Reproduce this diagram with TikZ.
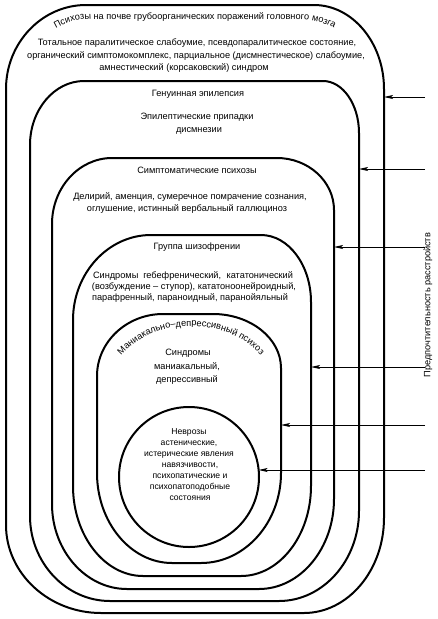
\documentclass[tikz,border=0pt]{standalone}
\usepackage{fontspec}
\setmainfont{Liberation Sans}
\usetikzlibrary{arrows.meta,decorations.text}
\tikzset{
  shp/.style={line width=2pt, line join=round},
  arr/.style={line width=0.9pt, -{Stealth[length=9pt,width=4pt,inset=2pt]}},
  lbl/.style={font=\fontsize{9.2}{11}\selectfont, inner sep=0pt, text height=6.5pt, text depth=2pt},
  lblsm/.style={font=\fontsize{8.6}{10}\selectfont, inner sep=0pt, text height=6pt, text depth=2pt},
}
% rounded shape: (L,R,T,B)(tlx,tly)(trx,try)(brx,bry)(blx,bly)
\def\rshape(#1,#2,#3,#4)(#5,#6)(#7,#8){\def\zzL{#1}\def\zzR{#2}\def\zzT{#3}\def\zzB{#4}%
  \def\zza{#5}\def\zzb{#6}\def\zzc{#7}\def\zzd{#8}\rshapeB}
\def\rshapeB(#1,#2)(#3,#4){\def\zze{#1}\def\zzf{#2}\def\zzg{#3}\def\zzh{#4}\rshapeDraw}
\def\rshapeDraw{%
  \draw[shp] (\zzL,{\zzT+\zzb}) .. controls (\zzL,{\zzT+0.45*\zzb}) and ({\zzL+0.45*\zza},\zzT) .. ({\zzL+\zza},\zzT)
   -- ({\zzR-\zzc},\zzT) .. controls ({\zzR-0.45*\zzc},\zzT) and (\zzR,{\zzT+0.45*\zzd}) .. (\zzR,{\zzT+\zzd})
   -- (\zzR,{\zzB-\zzf}) .. controls (\zzR,{\zzB-0.45*\zzf}) and ({\zzR-0.45*\zze},\zzB) .. ({\zzR-\zze},\zzB)
   -- ({\zzL+\zzg},\zzB) .. controls ({\zzL+0.45*\zzg},\zzB) and (\zzL,{\zzB-0.45*\zzh}) .. (\zzL,{\zzB-\zzh})
   -- cycle;}
\begin{document}
\begin{tikzpicture}[x=1pt,y=-1pt]
\useasboundingbox (0,0) rectangle (438,619);
% shapes
\rshape(6,384,5,613)(80,84)(70,84)(80,95)(95,88)
\rshape(30,359,81,601)(54,64)(36,52)(80,90)(80,85)
\rshape(52,334,158,589)(60,66)(57,52)(75,90)(75,85)
\rshape(73,311,235,576)(78,85)(50,67)(70,90)(70,90)
\rshape(97,281,314,563)(66,62)(68,54)(80,90)(75,90)
\draw[shp] (189,477) circle[radius=70pt];
% curved titles
\path[decorate, decoration={text along path, text align=center,
  text={|\fontsize{9.2}{11}\selectfont|Психозы на почве грубоорганических поражений головного мозга}}]
  (20,90) arc[start angle=180, end angle=90, radius=71pt] -- (299,19) arc[start angle=90, end angle=0, radius=71pt];
\path[decorate, decoration={text along path, text align=center,
  text={|\fontsize{9.2}{11}\selectfont|Маниакально–депрессивный психоз}}]
  (107,392) arc[start angle=180, end angle=0, x radius=84pt, y radius=66pt];
% texts
\node[lbl] (o1) at (197,43) {Тотальное паралитическое слабоумие, псевдопаралитическое состояние,};
\node[lbl] (o2) at (196,56) {органический симптомокомплекс, парциальное (дисмнестическое) слабоумие,};
\node[lbl] (o3) at (184,68) {амнестический (корсаковский) синдром};
\node[lbl] (e0) at (198,94) {Генуинная эпилепсия};
\node[lbl] (e1) at (197,117) {Эпилептические припадки};
\node[lbl] (e2) at (199,130) {дисмнезии};
\node[lbl] (s0) at (197,171) {Симптоматические психозы};
\node[lbl] (s1) at (190,197) {Делирий, аменция, сумеречное помрачение сознания,};
\node[lbl] (s2) at (187,209) {оглушение, истинный вербальный галлюциноз};
\node[lbl] (g0) at (197,247) {Группа шизофрении};
\node[lbl] (g1) at (193,276) {\makebox[200pt][s]{Синдромы гебефренический, кататонический}};
\node[lbl] (g2) at (194,287) {(возбуждение – ступор), кататоноонейроидный,};
\node[lbl] (g3) at (190,298) {парафренный, параноидный, паранойяльный};
\node[lbl] (m1) at (188,353) {Синдромы};
\node[lbl] (m2) at (187,367) {маниакальный,};
\node[lbl] (m3) at (187,380) {депрессивный};
\node[lblsm] (n1) at (189,432) {Неврозы};
\node[lblsm] (n2) at (189,443) {астенические,};
\node[lblsm] (n3) at (189,454) {истерические явления};
\node[lblsm] (n4) at (190,465) {навязчивости,};
\node[lblsm] (n5) at (190,476) {психопатические и};
\node[lblsm] (n6) at (190,487) {психопатоподобные};
\node[lblsm] (n7) at (190,498) {состояния};
\node[lbl, rotate=90] (pref) at (428,305) {Предпочтительность расстройств};
% arrows
\coordinate (a1s) at (425,97);  \coordinate (a1e) at (384,97);
\coordinate (a2s) at (425,169); \coordinate (a2e) at (359,169);
\coordinate (a3s) at (425,247); \coordinate (a3e) at (334,247);
\coordinate (a4s) at (425,367); \coordinate (a4e) at (311,367);
\coordinate (a5s) at (425,425); \coordinate (a5e) at (281,425);
\coordinate (a6s) at (425,470); \coordinate (a6e) at (258.6,470);
\draw[arr] (a1s) -- (a1e);
\draw[arr] (a2s) -- (a2e);
\draw[arr] (a3s) -- (a3e);
\draw[arr] (a4s) -- (a4e);
\draw[arr] (a5s) -- (a5e);
\draw[arr] (a6s) -- (a6e);
\end{tikzpicture}
\end{document}
